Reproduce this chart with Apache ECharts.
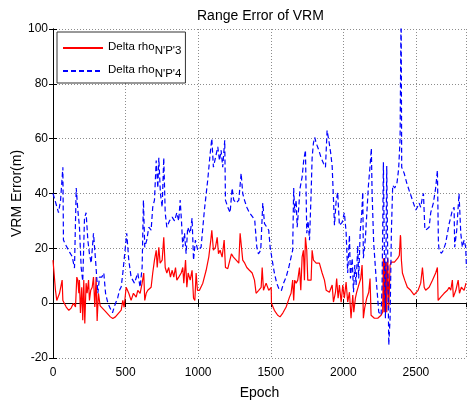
<!DOCTYPE html>
<html>
<head>
<meta charset="utf-8">
<script src="https://cdn.jsdelivr.net/npm/echarts@6/dist/echarts.min.js"></script>
<style>html,body{margin:0;padding:0;background:#fff;}#c{width:469px;height:401px;}</style>
</head>
<body>
<div id="c"></div>
<script>
const xTicks = [0, 500, 1000, 1500, 2000, 2500];
const yTicks = [-20, 0, 20, 40, 60, 80, 100];
const seriesNames = ["Delta rho N'P'3", "Delta rho N'P'4"];

const redEpoch = [0,5,17,26,45,63,68,91,109,125,141,155,164,171,178,182,189,198,205,212,219,228,235,245,251,260,270,279,288,297,304,313,325,343,361,378,395,412,430,446,458,470,481,490,504,522,538,554,573,584,600,614,625,632,642,653,676,687,699,711,718,729,738,752,763,773,784,797,809,821,832,844,853,866,883,894,901,913,922,931,945,958,968,977,986,995,1009,1032,1055,1073,1087,1094,1105,1119,1131,1140,1151,1165,1179,1188,1204,1216,1229,1243,1262,1280,1289,1300,1307,1321,1335,1353,1372,1388,1399,1417,1434,1441,1450,1468,1486,1503,1505,1525,1548,1564,1583,1606,1629,1640,1651,1658,1665,1675,1686,1698,1707,1716,1725,1732,1739,1748,1755,1767,1778,1785,1794,1813,1835,1854,1870,1882,1904,1923,1932,1946,1954,1964,1973,1985,1996,2007,2019,2030,2042,2053,2065,2072,2083,2092,2106,2120,2129,2134,2138,2147,2161,2175,2184,2191,2214,2237,2260,2271,2276,2281,2285,2290,2295,2299,2306,2313,2318,2322,2331,2352,2375,2386,2393,2395,2400,2407,2423,2441,2464,2487,2499,2515,2533,2545,2557,2567,2591,2614,2636,2648,2653,2671,2694,2717,2729,2740,2751,2758,2775,2791,2800,2813,2832,2845];
const redVal = [15.7,15.7,4.7,1,3.6,8.4,1,-1.4,-2.6,-1.8,0,-1.4,9.5,8.4,3.6,8.4,-3.6,5.8,-6.2,8.4,-7.4,7.3,3.6,8.4,1,4.7,5.8,9.5,-1.4,9.5,-6.5,3.6,-1,-2,-3,-4,-5,-5.6,-5,-4,-3.6,-2.5,1,-1.5,5.8,3.6,1,3.6,2.2,4.7,3.6,7.3,11,1,3.6,4.7,5.8,11,15.7,19.3,13,20.4,14.6,15.7,24,13,11,13,9.5,12,9.5,13,8.4,9.5,11,13,7.3,15.7,5.8,11,8.4,12,1.8,1,11,4.7,4.7,7.3,12,16.8,23,26.6,19.3,20.4,24,18,19.3,16.8,23,13,12.6,12,18,16.8,15.7,14.6,25.5,25.5,15.7,14.6,13,12,11,8.4,3.6,4.7,5.8,13,4.7,7.3,4.7,5.8,0,-2.6,-4.4,-5,-3.6,-1.4,2.2,3.6,8.4,1,8.4,7.3,8.4,13,4.7,16.8,19.3,8.4,24,19.3,8.4,7.7,8.4,19.3,15.7,14.6,14.6,11,8.4,4.7,4,6.6,0.4,4,9,1.8,6.6,0.4,6.6,1.8,7.7,0.4,4,-5.5,3,-3.3,1.8,4,6.6,9,13.9,5.5,-5.5,-1.8,1.8,4,9,-4.4,-5.5,-5.5,-4.4,-3.3,16.4,-3.3,16.4,-3.3,15,-3.3,16.4,-1.8,-1.8,13.9,15,15,16.4,17.5,24.8,24,15.7,11,8.4,5.8,4.7,3,3.6,4.7,7.3,13,5.8,4.7,5.8,8.4,11,13,1,2.2,3.6,4.7,5.8,4.7,8.4,2.2,4.7,8.4,3.6,5.8,4.7,7.3];

const blueEpoch = [0,22,38,52,68,72,90,114,132,148,160,171,182,194,205,217,228,240,251,263,279,293,309,320,336,350,362,378,395,410,424,446,458,470,481,508,522,538,561,584,600,614,623,632,646,660,676,687,699,711,722,729,740,752,763,773,784,802,821,837,853,866,876,885,894,906,917,928,945,958,968,981,997,1020,1043,1066,1083,1094,1105,1119,1135,1147,1158,1169,1183,1188,1204,1220,1234,1245,1262,1280,1296,1307,1319,1335,1353,1376,1390,1404,1415,1431,1445,1457,1473,1486,1496,1510,1525,1541,1560,1574,1588,1606,1624,1640,1651,1658,1665,1675,1682,1693,1702,1716,1727,1739,1748,1757,1767,1778,1785,1794,1803,1813,1831,1847,1863,1877,1888,1900,1913,1923,1932,1939,1950,1961,1973,1992,2007,2019,2030,2042,2049,2061,2070,2079,2088,2099,2106,2116,2127,2134,2138,2152,2161,2173,2184,2193,2198,2209,2226,2244,2260,2267,2276,2283,2290,2299,2306,2313,2322,2331,2340,2354,2370,2381,2391,2398,2402,2419,2437,2453,2469,2483,2499,2510,2522,2533,2545,2552,2561,2567,2579,2591,2602,2620,2636,2648,2655,2660,2676,2689,2705,2717,2729,2740,2751,2763,2767,2781,2797,2809,2820,2832,2843,2848];
const blueVal = [40,36,33,37.5,49.6,23,21,18.6,17,12.8,42,34,28,13,8,31,33,23,18,14.6,25.5,15.7,3.6,9.5,9.5,11,3.6,0,-2,-3.5,-1,2,4.7,6,11,25.5,15.7,9.5,7.3,11,5.8,13,37.6,20.4,23,27.7,26.6,35,37.6,52,42,53,40,35,53,33,27.7,30,31.4,30,33,30,37.6,30,20.4,25.5,18,27.7,25.5,31,15.7,23,19.3,20.4,34,45,54.7,60,49.6,53,57,52,55.8,49.6,59.4,37.6,35,33,42,37.6,36.5,37.6,47.4,40,37.6,35,33,31.4,30,20.4,18,19.3,36.5,29,27.7,26.6,20.4,15.7,11,7.3,4.7,4.7,7.3,9.5,13,16.8,19.3,42,33,37.6,27.7,35,42,46,52,55.8,25.5,30,23,40,53,58.4,60.5,58.4,55.8,53,51,49.6,63,59.4,54.7,50,38,28.4,37,40.5,28.4,29.5,33,26,11,24.8,9,16.4,4,13.9,6.6,21,9,26,33,40.5,16.4,23.7,32,43,50,56.5,40.5,22,9,-3.3,-4.4,6.6,51.4,16.4,-5.5,50,16.4,-15.3,-5.5,26,43,42,44,49,60,110,49.6,47.4,43.8,41.2,38.7,36.5,34,35,36.5,35,38.7,40,27.7,26.6,26,27.7,33,36.5,42,48.5,21.9,19.3,18.2,19.3,21.9,25.5,29,31.4,34,35,20.4,26.6,40,25.5,20.4,23,20.4,13];

const zip = (a, b) => a.map((x, i) => [x, b[i]]);
const FONT = "'Liberation Sans', Arial, sans-serif";
const X_MIN = 0, X_MAX = 2845, Y_MIN = -20, Y_MAX = 100;

const chart = echarts.init(document.getElementById('c'), null, {renderer: 'canvas'});
const axisCommon = {
  axisLine: {show: true, lineStyle: {color: '#000', width: 1}},
  axisTick: {show: true, inside: true, length: 4, lineStyle: {color: '#000'}},
};
chart.setOption({
  backgroundColor: '#fff',
  animation: false,
  title: {
    text: 'Range Error of VRM', left: 197, top: 9, padding: 0,
    textStyle: {fontFamily: FONT, fontSize: 14, fontWeight: 'normal', color: '#000'}
  },
  grid: {left: 53, right: 3, top: 29, bottom: 43, containLabel: false, outerBoundsMode: 'none'},
  legend: {
    orient: 'vertical', left: 57, top: 32,
    backgroundColor: '#fff', borderColor: '#333', borderWidth: 1,
    padding: [5, 4, 3, 5], itemGap: 3, itemWidth: 40, itemHeight: 14,
    data: seriesNames,
    itemStyle: {opacity: 0, borderWidth: 0},
    formatter: function (name) {
      const sub = name.split(' ').pop();
      return '{a|Delta rho}{s|' + sub + '}';
    },
    textStyle: {
      fontFamily: FONT, color: '#000',
      rich: {
        a: {fontFamily: FONT, fontSize: 11.5, color: '#000', lineHeight: 18, verticalAlign: 'middle', padding: [0,0,2,0]},
        s: {fontFamily: FONT, fontSize: 11.5, color: '#000', lineHeight: 18, padding: [8,0,0,0], verticalAlign: 'bottom'}
      }
    }
  },
  xAxis: [
    Object.assign({
      type: 'value', min: X_MIN, max: X_MAX, interval: 500, position: 'bottom',
      name: 'Epoch', nameLocation: 'middle', nameGap: 28, nameMoveOverlap: false,
      nameTextStyle: {fontFamily: FONT, fontSize: 14, color: '#000'},
      axisLabel: {fontFamily: FONT, fontSize: 12, color: '#000', margin: 9, showMaxLabel: false,
        formatter: v => (xTicks.indexOf(v) >= 0 ? String(v) : '')},
      splitLine: {show: true, lineStyle: {color: '#8c8c8c', type: [1, 2], width: 1}}
    }, axisCommon),
    Object.assign({
      type: 'value', min: X_MIN, max: X_MAX, interval: 500, position: 'top',
      axisLabel: {show: false}, splitLine: {show: false}
    }, axisCommon)
  ],
  yAxis: [
    Object.assign({
      type: 'value', min: Y_MIN, max: Y_MAX, interval: 20, position: 'left',
      name: 'VRM Error(m)', nameLocation: 'middle', nameGap: 29, nameMoveOverlap: false,
      nameTextStyle: {fontFamily: FONT, fontSize: 14, color: '#000'},
      axisLabel: {fontFamily: FONT, fontSize: 12, color: '#000', margin: 5,
        formatter: v => (yTicks.indexOf(v) >= 0 ? String(v) : '')},
      splitLine: {show: true, lineStyle: {color: '#8c8c8c', type: [1, 2], width: 1}}
    }, axisCommon),
    Object.assign({
      type: 'value', min: Y_MIN, max: Y_MAX, interval: 20, position: 'right',
      axisLabel: {show: false}, splitLine: {show: false}
    }, axisCommon)
  ],
  series: [
    {
      name: seriesNames[0], type: 'line', xAxisIndex: 0, yAxisIndex: 0,
      data: zip(redEpoch, redVal), showSymbol: false, symbol: 'none', clip: true,
      lineStyle: {color: '#ff0000', width: 1.2, type: 'solid'}, itemStyle: {color: '#ff0000'}
    },
    {
      name: seriesNames[1], type: 'line', xAxisIndex: 0, yAxisIndex: 0,
      data: zip(blueEpoch, blueVal), showSymbol: false, symbol: 'none', clip: true,
      lineStyle: {color: '#0000ff', width: 1.2, type: [5, 3]}, itemStyle: {color: '#0000ff'}
    }
  ]
});
</script>
</body>
</html>
